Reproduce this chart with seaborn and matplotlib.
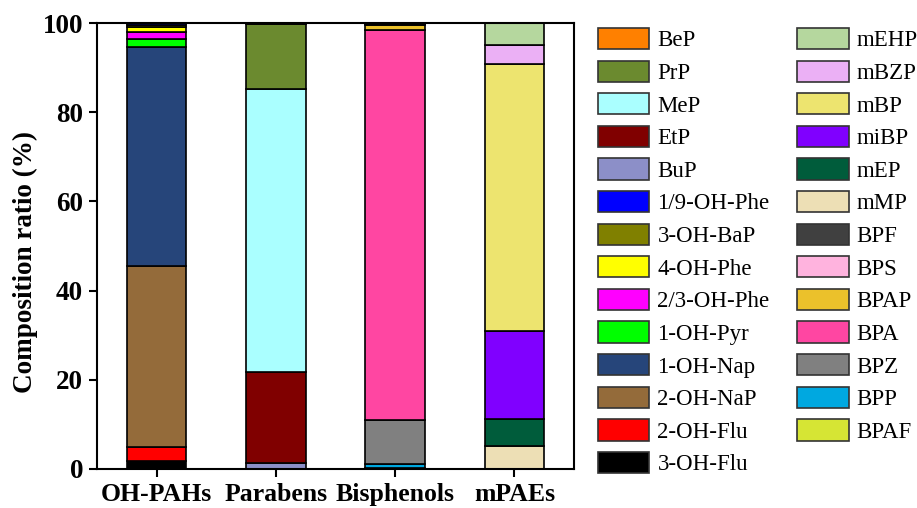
import numpy as np
import pandas as pd
import matplotlib
matplotlib.use("Agg")
import matplotlib.pyplot as plt
from matplotlib.patches import Patch
import seaborn as sns

categories = ["OH-PAHs", "Parabens", "Bisphenols", "mPAEs"]

# stacking order from bottom to top, with each compound's share per group (%)
series = [
    # OH-PAHs
    ("3-OH-Flu",   [1.8, 0, 0, 0],   "#000000"),
    ("2-OH-Flu",   [3.1, 0, 0, 0],   "#FF0000"),
    ("2-OH-NaP",   [40.7, 0, 0, 0],  "#946B3A"),
    ("1-OH-Nap",   [49.0, 0, 0, 0],  "#26457A"),
    ("1-OH-Pyr",   [1.9, 0, 0, 0],   "#00FF00"),
    ("2/3-OH-Phe", [1.5, 0, 0, 0],   "#FF00FF"),
    ("4-OH-Phe",   [1.0, 0, 0, 0],   "#FFFF00"),
    ("3-OH-BaP",   [0.6, 0, 0, 0],   "#808000"),
    ("1/9-OH-Phe", [0.4, 0, 0, 0],   "#0000FF"),
    # Parabens
    ("BuP",        [0, 1.4, 0, 0],   "#8C8FC8"),
    ("EtP",        [0, 20.3, 0, 0],  "#800000"),
    ("MeP",        [0, 63.5, 0, 0],  "#AAFFFF"),
    ("PrP",        [0, 14.6, 0, 0],  "#6B8A2F"),
    ("BeP",        [0, 0.2, 0, 0],   "#FF8000"),
    # Bisphenols
    ("BPAF",       [0, 0, 0.2, 0],   "#D6E534"),
    ("BPP",        [0, 0, 0.9, 0],   "#00A8E0"),
    ("BPZ",        [0, 0, 9.8, 0],   "#808080"),
    ("BPA",        [0, 0, 87.5, 0],  "#FF46A2"),
    ("BPAP",       [0, 0, 1.2, 0],   "#EBC12B"),
    ("BPS",        [0, 0, 0.2, 0],   "#FFB3DE"),
    ("BPF",        [0, 0, 0.2, 0],   "#404040"),
    # mPAEs
    ("mMP",        [0, 0, 0, 5.2],   "#EDDFB5"),
    ("mEP",        [0, 0, 0, 6.0],   "#005C3B"),
    ("miBP",       [0, 0, 0, 19.7],  "#8000FF"),
    ("mBP",        [0, 0, 0, 59.8],  "#EDE46F"),
    ("mBZP",       [0, 0, 0, 4.4],   "#EBB0F5"),
    ("mEHP",       [0, 0, 0, 4.9],   "#B5D79E"),
]

legend_col1 = ["BeP", "PrP", "MeP", "EtP", "BuP", "1/9-OH-Phe", "3-OH-BaP",
               "4-OH-Phe", "2/3-OH-Phe", "1-OH-Pyr", "1-OH-Nap", "2-OH-NaP",
               "2-OH-Flu", "3-OH-Flu"]
legend_col2 = ["mEHP", "mBZP", "mBP", "miBP", "mEP", "mMP", "BPF", "BPS",
               "BPAP", "BPA", "BPZ", "BPP", "BPAF"]

sns.set_theme(style="ticks")
plt.rcParams["font.family"] = ["Liberation Serif", "DejaVu Serif"]
plt.rcParams["text.color"] = "black"
plt.rcParams["axes.labelcolor"] = "black"
plt.rcParams["xtick.color"] = "black"
plt.rcParams["ytick.color"] = "black"

fig = plt.figure(figsize=(9.17, 5.08), dpi=100)
ax = fig.add_axes([0.1058, 0.0768, 0.5202, 0.8779])

bottom = np.zeros(len(categories))
for name, vals, col in series:
    vals = np.array(vals, dtype=float)
    mask = vals > 0
    df = pd.DataFrame({"group": np.array(categories)[mask], "value": vals[mask]})
    sns.barplot(data=df, x="group", y="value", order=categories,
                bottom=bottom[mask], color=col, width=0.5, saturation=1,
                edgecolor="black", linewidth=1.2, ax=ax, errorbar=None)
    bottom = bottom + vals

ax.set_xlim(-0.5, 3.5)
ax.set_ylim(0, 100)
ax.set_yticks([0, 20, 40, 60, 80, 100])
ax.set_xlabel("")
ax.set_ylabel("Composition ratio (%)", fontsize=19.5, fontweight="bold",
              color="black")
ax.yaxis.set_label_coords(-0.124, 0.465)
for lab in ax.get_xticklabels():
    lab.set_fontweight("bold")
    lab.set_fontsize(18.5)
for lab in ax.get_yticklabels():
    lab.set_fontweight("bold")
    lab.set_fontsize(19.5)
ax.tick_params(axis="both", direction="out", length=6, width=1.5, colors="black",
               labelcolor="black", pad=4)
for s in ax.spines.values():
    s.set_visible(True)
    s.set_linewidth(1.5)
    s.set_color("black")

colors = {name: col for name, _, col in series}
handles = [Patch(facecolor=colors[n], edgecolor="#333333", linewidth=1.2, label=n)
           for n in legend_col1 + legend_col2]
fig.legend(handles=handles, ncol=2, loc="upper left",
           bbox_to_anchor=(0.652, 0.945), frameon=False, fontsize=16.5,
           handlelength=2.25, handleheight=1.05, handletextpad=0.35,
           labelspacing=0.40, columnspacing=1.2, borderaxespad=0,
           borderpad=0, labelcolor="black")

fig.savefig("out.png", dpi=100)
